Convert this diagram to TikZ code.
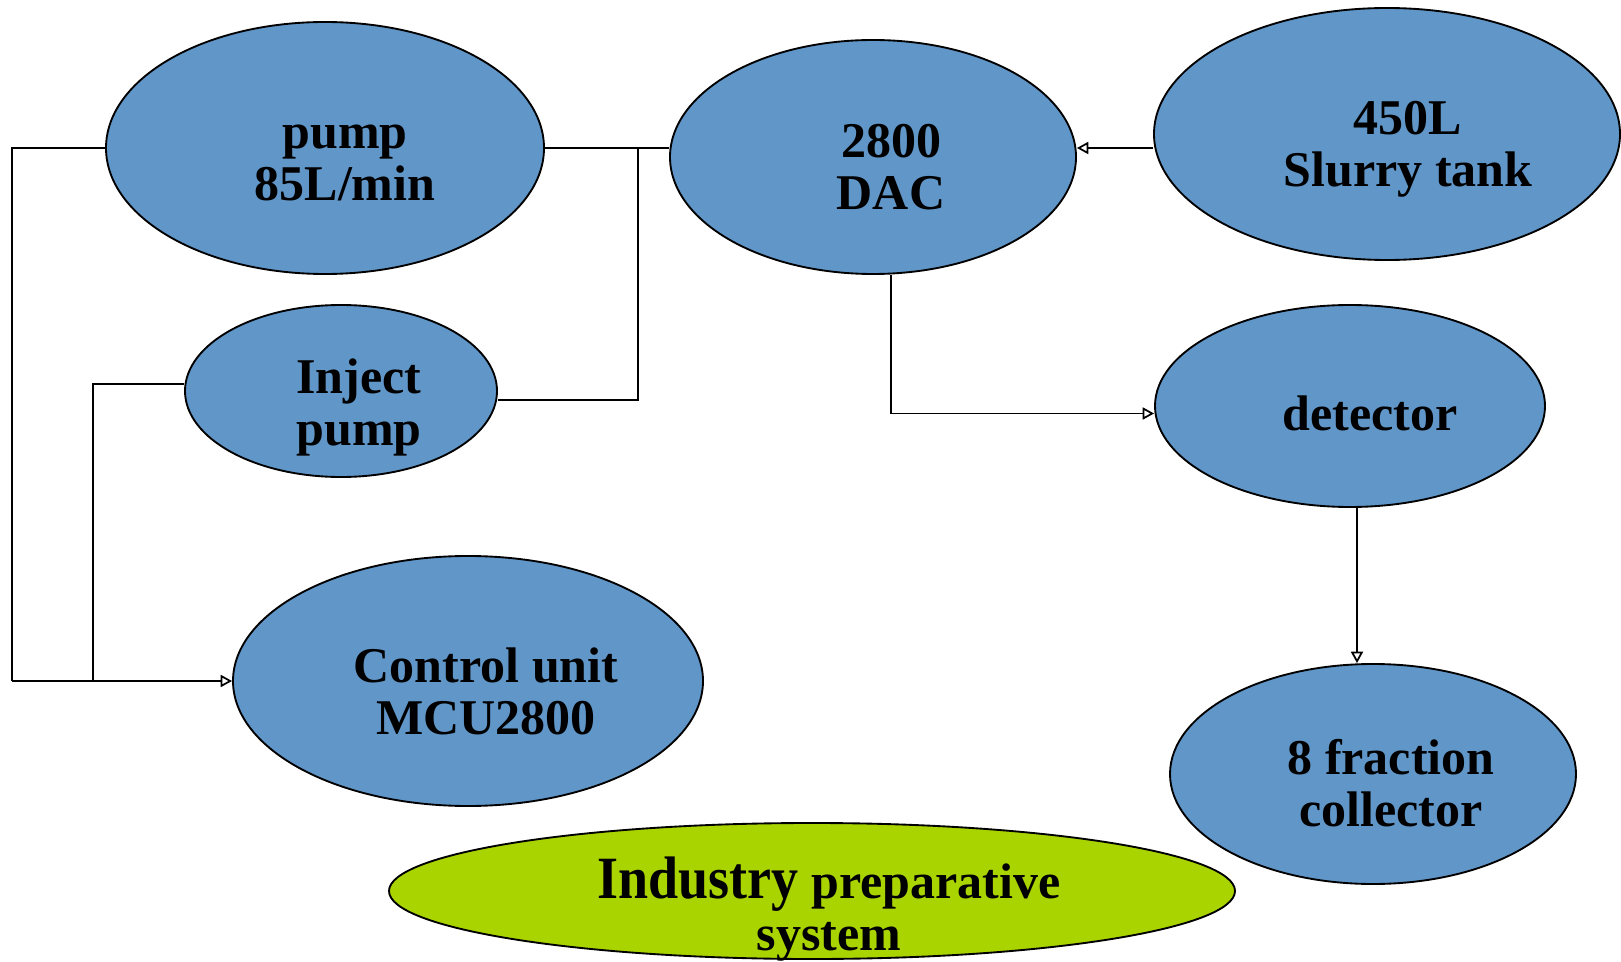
\documentclass[tikz,border=0pt]{standalone}
\usepackage{fontspec}
\setmainfont{Liberation Serif}
\usepackage{graphicx}
\usetikzlibrary{shapes.geometric,arrows.meta,calc}
\definecolor{ublue}{RGB}{96,150,200}
\definecolor{ugreen}{RGB}{170,212,0}
\begin{document}
\begin{tikzpicture}[x=0.75pt,y=-0.75pt,
  ell/.style={ellipse, draw=black, line width=1.4pt, fill=ublue, inner sep=0pt},
  lbl/.style={align=center, inner sep=0pt, font=\fontsize{37.5}{39}\selectfont\bfseries},
  conn/.style={draw=black, line width=1.3pt},
  arr/.style={conn, -{Triangle[open, length=8.5pt, width=9pt, line width=1.3pt]}}]
\useasboundingbox (0,0) rectangle (1621,962);
% ellipses
\node[ell, minimum width=438*0.75pt, minimum height=252*0.75pt] (pump) at (325,148) {};
\node[ell, minimum width=406*0.75pt, minimum height=234*0.75pt] (dac) at (873,157) {};
\node[ell, minimum width=466*0.75pt, minimum height=252*0.75pt] (tank) at (1387,134) {};
\node[ell, minimum width=312*0.75pt, minimum height=172*0.75pt] (inject) at (341,391) {};
\node[ell, minimum width=390*0.75pt, minimum height=202*0.75pt] (detector) at (1350,406) {};
\node[ell, minimum width=470*0.75pt, minimum height=250*0.75pt] (control) at (468,681) {};
\node[ell, minimum width=406*0.75pt, minimum height=220*0.75pt] (frac) at (1373,774) {};
\node[ell, fill=ugreen, minimum width=846*0.75pt, minimum height=136*0.75pt] (industry) at (812,891) {};
% labels
\node[lbl] (pumpT) at (345,164) {\strut pump\\85L/min\strut};
\node[lbl] (dacT) at (891,173) {\strut 2800\\DAC\strut};
\node[lbl] (tankT) at (1408,150) {\strut 450L\\Slurry tank\strut};
\node[lbl] (injectT) at (359,409) {\strut Inject\\pump\strut};
\node[lbl] (detectorT) at (1370,420) {\strut detector\strut};
\node[lbl] (controlT) at (486,698) {\strut Control unit\\MCU2800\strut};
\node[lbl] (fracT) at (1391,790) {\strut 8 fraction\\collector\strut};
\node[lbl] (industryT) at (829,911) {\strut\scalebox{0.9}[1]{\fontsize{45}{39}\selectfont Industry} preparative\\system\strut};
% connector corner points
\coordinate (lt) at (12,148);
\coordinate (lb) at (12,681);
\coordinate (mt) at (93,384);
\coordinate (mb) at (93,681);
\coordinate (jt) at (638,148);
\coordinate (jb) at (638,400);
\coordinate (dd) at (891,413.5);
\coordinate (fx) at (1357,0);
% connectors
\draw[conn] (pump.west) -- (lt) -- (lb);
\draw[arr] (lb) -- (control.west);
\draw[conn] (inject.west |- mt) -- (mt) -- (mb);
\draw[conn] (pump.east) -- (dac.west |- pump.east);
\draw[conn] (jt) -- (jb) -- (inject.east |- jb);
\draw[arr] (tank.west |- pump.east) -- (dac.east |- pump.east);
\draw[arr] (dac.south -| dd) -- (dd) -- (detector.west |- dd);
\draw[arr] (detector.south -| fx) -- (frac.north -| fx);
\end{tikzpicture}
\end{document}
